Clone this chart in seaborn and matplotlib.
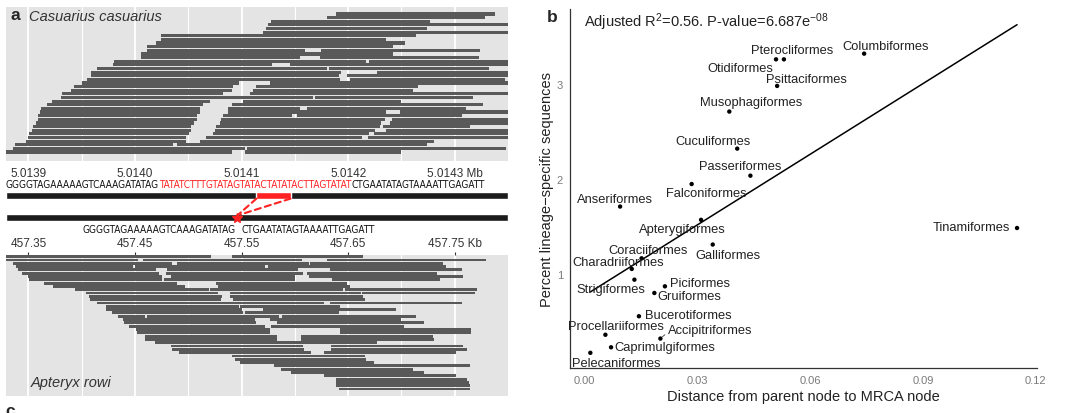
import numpy as np
import pandas as pd
import seaborn as sns
import matplotlib.pyplot as plt
import matplotlib.transforms as mtransforms
from matplotlib import font_manager
from matplotlib.patches import ConnectionPatch

# ---------------- panel a: read alignments ----------------
# each row: (start, end) offsets in bp from the window origin
cas_origin = 5013873
cas_reads = [
    [(316, 465)],
    [(307, 455)],
    [(255, 404)],
    [(252, 480)],
    [(250, 401)],
    [(247, 480)],
    [(151, 391)],
    [(151, 363)],
    [(147, 380)],
    [(138, 369)],
    [(138, 287), (302, 451)],
    [(133, 369)],
    [(133, 282), (301, 450)],
    [(107, 344), (347, 480)],
    [(106, 256), (272, 480)],
    [(91, 307), (309, 459)],
    [(86, 320), (354, 480)],
    [(86, 318), (326, 480)],
    [(82, 319), (329, 474)],
    [(77, 225), (254, 480)],
    [(70, 219), (241, 393)],
    [(67, 218), (238, 388)],
    [(59, 210), (235, 480)],
    [(58, 294), (296, 444)],
    [(49, 197), (228, 377)],
    [(44, 191), (218, 454)],
    [(39, 188), (214, 282), (288, 438)],
    [(38, 188), (214, 363), (376, 480)],
    [(36, 185), (210, 274), (279, 434)],
    [(36, 185), (208, 362), (368, 480)],
    [(34, 182), (207, 358), (366, 480)],
    [(31, 180), (203, 357), (360, 441)],
    [(30, 180), (202, 352), (363, 480)],
    [(28, 178), (200, 347), (351, 480)],
    [(27, 175), (194, 340), (346, 480)],
    [(25, 175), (188, 408)],
    [(14, 163), (166, 401)],
    [(13, 230), (232, 475)],
    [(4, 218), (230, 377)],
]

apt_origin = 457323
apt_reads = [
    [(4, 198), (218, 341)],
    [(4, 130), (135, 284), (307, 456)],
    [(13, 162), (166, 290), (291, 416)],
    [(15, 125), (127, 249), (252, 419)],
    [(17, 147), (157, 280), (310, 434)],
    [(21, 150), (156, 285), (288, 410)],
    [(27, 152), (161, 277), (290, 435)],
    [(28, 152), (154, 277), (312, 413)],
    [(42, 166), (203, 326)],
    [(50, 174), (205, 329)],
    [(71, 196), (197, 322), (324, 448)],
    [(81, 205), (216, 339), (340, 446)],
    [(84, 209), (216, 341)],
    [(85, 208), (219, 343)],
    [(91, 304), (310, 434)],
    [(100, 225), (226, 319)],
    [(100, 227), (247, 372)],
    [(105, 228), (230, 318)],
    [(111, 136), (138, 262), (265, 391)],
    [(116, 240), (254, 377)],
    [(117, 241), (260, 398)],
    [(121, 249), (255, 379)],
    [(128, 254), (319, 442)],
    [(129, 254), (319, 442)],
    [(136, 260), (283, 407)],
    [(136, 260), (283, 408)],
    [(146, 354)],
    [(161, 285), (311, 435)],
    [(162, 286), (311, 439)],
    [(168, 292), (304, 428)],
    [(218, 343)],
    [(221, 344)],
    [(226, 351)],
    [(257, 441)],
    [(264, 388)],
    [(273, 398)],
    [(304, 428)],
    [(316, 439)],
    [(316, 440)],
    [(316, 441)],
    [(318, 441)],
]

cas_xlim = (5013879, 5014350)
cas_ticks = [5013900, 5014000, 5014100, 5014200, 5014300]
cas_tick_labels = ["5.0139", "5.0140", "5.0141", "5.0142", "5.0143 Mb"]
apt_xlim = (457329, 457800)
apt_ticks = [457350, 457450, 457550, 457650, 457750]
apt_tick_labels = ["457.35", "457.45", "457.55", "457.65", "457.75 Kb"]

seq_left = "GGGGTAGAAAAAGTCAAAGATATAG"
seq_insert = "TATATCTTTGTATAGTATACTATATACTTAGTATAT"
seq_right = "CTGAATATAGTAAAATTGAGATT"
insert_start, insert_end = 5014114, 5014146
deletion_site = 457546

# ---------------- panel b: scatter ----------------
orders = ["Columbiformes", "Pterocliformes", "Otidiformes", "Psittaciformes",
          "Musophagiformes", "Cuculiformes", "Passeriformes", "Falconiformes",
          "Anseriformes", "Apterygiformes", "Tinamiformes", "Galliformes",
          "Coraciiformes", "Charadriiformes", "Strigiformes", "Piciformes",
          "Gruiformes", "Bucerotiformes", "Procellariiformes", "Accipitriformes",
          "Caprimulgiformes", "Pelecaniformes"]
distance = [0.0744, 0.0531, 0.0510, 0.0513, 0.0386, 0.0407, 0.0442, 0.0286,
            0.0096, 0.0311, 0.1150, 0.0342, 0.0153, 0.0127, 0.0134, 0.0215,
            0.0187, 0.0146, 0.0057, 0.0203, 0.0072, 0.0017]
percent = [3.32, 3.26, 3.26, 2.98, 2.71, 2.32, 2.035, 1.947,
           1.71, 1.57, 1.484, 1.31, 1.165, 1.053, 0.94, 0.87,
           0.80, 0.555, 0.36, 0.32, 0.228, 0.17]

# label placement (pixels, right / down from the point)
label_offsets = {
    "Columbiformes": (21, -8), "Pterocliformes": (8, -9), "Otidiformes": (-36, 9),
    "Psittaciformes": (29, -7), "Musophagiformes": (22, -10), "Cuculiformes": (-24, -8),
    "Passeriformes": (-10, -10), "Falconiformes": (15, 9), "Anseriformes": (-5, -8),
    "Apterygiformes": (-19, 9), "Tinamiformes": (-46, -1), "Galliformes": (15, 10),
    "Coraciiformes": (7, -8), "Charadriiformes": (-14, -7), "Strigiformes": (-24, 9),
    "Piciformes": (35, -3), "Gruiformes": (35, 3), "Bucerotiformes": (49, -1),
    "Procellariiformes": (11, -9), "Accipitriformes": (50, -9),
    "Caprimulgiformes": (54, 0), "Pelecaniformes": (26, 10),
}

sns.set_style("white")
plt.rcParams["font.family"] = ["Liberation Sans", "DejaVu Sans"]
plt.rcParams["mathtext.fontset"] = "custom"
plt.rcParams["mathtext.rm"] = "Liberation Sans"
plt.rcParams["mathtext.it"] = "Liberation Sans:italic"

# a narrow face for the sequence strings if one is installed
seq_prop = font_manager.FontProperties(family="Liberation Sans")
for f in font_manager.fontManager.ttflist:
    if f.name == "Liberation Sans Narrow" and f.style == "normal" and f.weight in (400, "normal"):
        seq_prop = font_manager.FontProperties(fname=f.fname)
        break
    if f.name == "DejaVu Sans" and f.stretch == "condensed" and f.style == "normal" \
            and f.weight in (400, "normal"):
        seq_prop = font_manager.FontProperties(fname=f.fname)

W, H = 1083, 414
fig = plt.figure(figsize=(W / 100, H / 100), dpi=100)


def px_axes(x0, y0, x1, y1):
    return fig.add_axes([x0 / W, 1 - y1 / H, (x1 - x0) / W, (y1 - y0) / H])


red = "#ff2222"


def read_panel(ax, reads, origin, xlim, ticks, labels, pad_top, pad_bottom, top_axis=False):
    for row, segs in enumerate(reads):
        for s, e in segs:
            ax.barh(row, e - s, left=origin + s, height=0.86, color="#595959",
                    linewidth=0)
    ax.set_xlim(*xlim)
    ax.set_ylim(len(reads) - 1 + pad_bottom, -pad_top)
    ax.set_facecolor("#e4e4e4")
    ax.set_xticks(ticks)
    ax.set_xticklabels(labels)
    ax.set_xticks([t + 50 for t in ticks[:-1]], minor=True)
    ax.set_yticks([])
    ax.grid(which="major", axis="x", color="white", linewidth=1.3)
    ax.grid(which="minor", axis="x", color="white", linewidth=0.8)
    ax.set_axisbelow(True)
    for sp in ax.spines.values():
        sp.set_visible(False)
    ax.tick_params(axis="x", which="major", length=2.5, width=0.8, color="#333333",
                   labelsize=8.5, labelcolor="#333333", pad=1.5)
    ax.tick_params(axis="x", which="minor", length=0)
    if top_axis:
        ax.xaxis.tick_top()
        ax.tick_params(axis="x", which="minor", length=0)


ax_top = px_axes(6, 8, 508, 162)
read_panel(ax_top, cas_reads, cas_origin, cas_xlim, cas_ticks, cas_tick_labels, 1.93, 2.48)
ax_bot = px_axes(6, 256, 508, 397)
read_panel(ax_bot, apt_reads, apt_origin, apt_xlim, apt_ticks, apt_tick_labels, 0.5, 2.1, top_axis=True)

# middle strip: sequences and insertion / deletion
ax_mid = px_axes(6, 162, 508, 256)
ax_mid.set_xlim(*cas_xlim)
ax_mid.set_ylim(256, 162)
ax_mid.axis("off")
ax_mid.patch.set_alpha(0)

span = cas_xlim[1] - cas_xlim[0]
ax_mid.barh(196.3, span, left=cas_xlim[0], height=6.5, color="#1c1c1c")
ax_mid.barh(196.3, insert_end - insert_start, left=insert_start, height=6.5, color=red)
ax_mid.barh(218.6, span, left=cas_xlim[0], height=6.7, color="#1c1c1c")

blend = mtransforms.blended_transform_factory(ax_bot.transData, ax_mid.transData)
ax_mid.plot([deletion_site], [219], marker="*", ms=7, color=red, transform=blend, clip_on=False)
for xa, dx, yb in [(insert_start, 0, 216.5), (insert_end, 3, 215.5)]:
    con = ConnectionPatch(xyA=(xa, 199.6), coordsA=ax_mid.transData,
                          xyB=(deletion_site + dx, yb), coordsB=blend,
                          color=red, linewidth=1.5, linestyle=(0, (3, 2)))
    fig.add_artist(con)

blend_txt = mtransforms.blended_transform_factory(ax_mid.transAxes, ax_mid.transData)
t1 = ax_mid.text(0, 185.5, seq_left, transform=blend_txt, ha="left", va="center",
                 color="#111111", fontproperties=seq_prop)
t2 = ax_mid.annotate(seq_insert, xy=(1, 0), xycoords=t1, ha="left", va="bottom",
                     color=red, fontproperties=seq_prop)
t3 = ax_mid.annotate(seq_right, xy=(1, 0), xycoords=t2, ha="left", va="bottom",
                     color="#111111", fontproperties=seq_prop)
b1 = ax_mid.annotate(seq_left, xy=(deletion_site, 230), xycoords=blend, xytext=(-2, 0),
                     textcoords="offset pixels", ha="right", va="center",
                     color="#111111", fontproperties=seq_prop)
b2 = ax_mid.annotate(seq_right, xy=(deletion_site, 230), xycoords=blend, xytext=(4, 0),
                     textcoords="offset pixels", ha="left", va="center",
                     color="#111111", fontproperties=seq_prop)
for t in (t1, t2, t3, b1, b2):
    t.set_fontsize(10)

fig.canvas.draw()
r = fig.canvas.get_renderer()
width = t3.get_window_extent(r).x1 - t1.get_window_extent(r).x0
fs = 10 * 482 / width
for t in (t1, t2, t3, b1, b2):
    t.set_fontsize(fs)

fig.text(15.5 / W, 1 - 16 / H, "a", weight="bold", fontsize=12.5, ha="center", va="center")
fig.text(29 / W, 1 - 17 / H, "Casuarius casuarius", style="italic", fontsize=10.5,
         va="center", color="#333333")
fig.text(31 / W, 1 - 383 / H, "Apteryx rowi", style="italic", fontsize=10.5,
         va="center", color="#333333")
fig.text(10 / W, 1 - 404 / H, "c", weight="bold", fontsize=12.5, ha="center", va="top")
fig.text(552 / W, 1 - 17 / H, "b", weight="bold", fontsize=12.5, ha="center", va="center")

# ---------------- panel b ----------------
ax_b = px_axes(570, 10, 1037, 369)
df = pd.DataFrame({"order": orders, "distance": distance, "percent": percent})
sns.regplot(data=df, x="distance", y="percent", scatter=False, ci=None, color="black",
            line_kws={"linewidth": 1.1}, ax=ax_b)
sns.scatterplot(data=df, x="distance", y="percent", color="black", s=10,
                edgecolor="none", ax=ax_b, zorder=3)

for name, x, y in zip(orders, distance, percent):
    dx, dy = label_offsets[name]
    kw = {}
    if name == "Accipitriformes":
        kw["arrowprops"] = dict(arrowstyle="-", lw=0.6, color="#333333",
                                shrinkA=0, shrinkB=2, relpos=(0, 0.3))
    ax_b.annotate(name, (x, y), xytext=(dx, -dy), textcoords="offset pixels",
                  ha="center", va="center", fontsize=9.3, color="#222222", **kw)

ax_b.text(0.0, 3.66, "Adjusted R$^{2}$=0.56. P-value=6.687e$^{-08}$", ha="left",
          va="center", fontsize=10.5, color="#222222")

ax_b.set_xlim(-0.0037, 0.1203)
ax_b.set_ylim(0.01, 3.79)
ax_b.set_xticks([0, 0.03, 0.06, 0.09, 0.12])
ax_b.set_xticklabels(["0.00", "0.03", "0.06", "0.09", "0.12"])
ax_b.set_yticks([1, 2, 3])
sns.despine(ax=ax_b)
for side in ("left", "bottom"):
    ax_b.spines[side].set_color("#333333")
    ax_b.spines[side].set_linewidth(0.9)
ax_b.tick_params(length=3, width=0.8, color="#333333", labelsize=8,
                 labelcolor="#7a7a7a", pad=2)
ax_b.set_xlabel("Distance from parent node to MRCA node", fontsize=10.5,
                color="#222222", labelpad=3)
ax_b.set_ylabel("Percent lineage\u2212specific sequences", fontsize=10.5,
                color="#222222", labelpad=2)

fig.savefig("out.png", dpi=100)
